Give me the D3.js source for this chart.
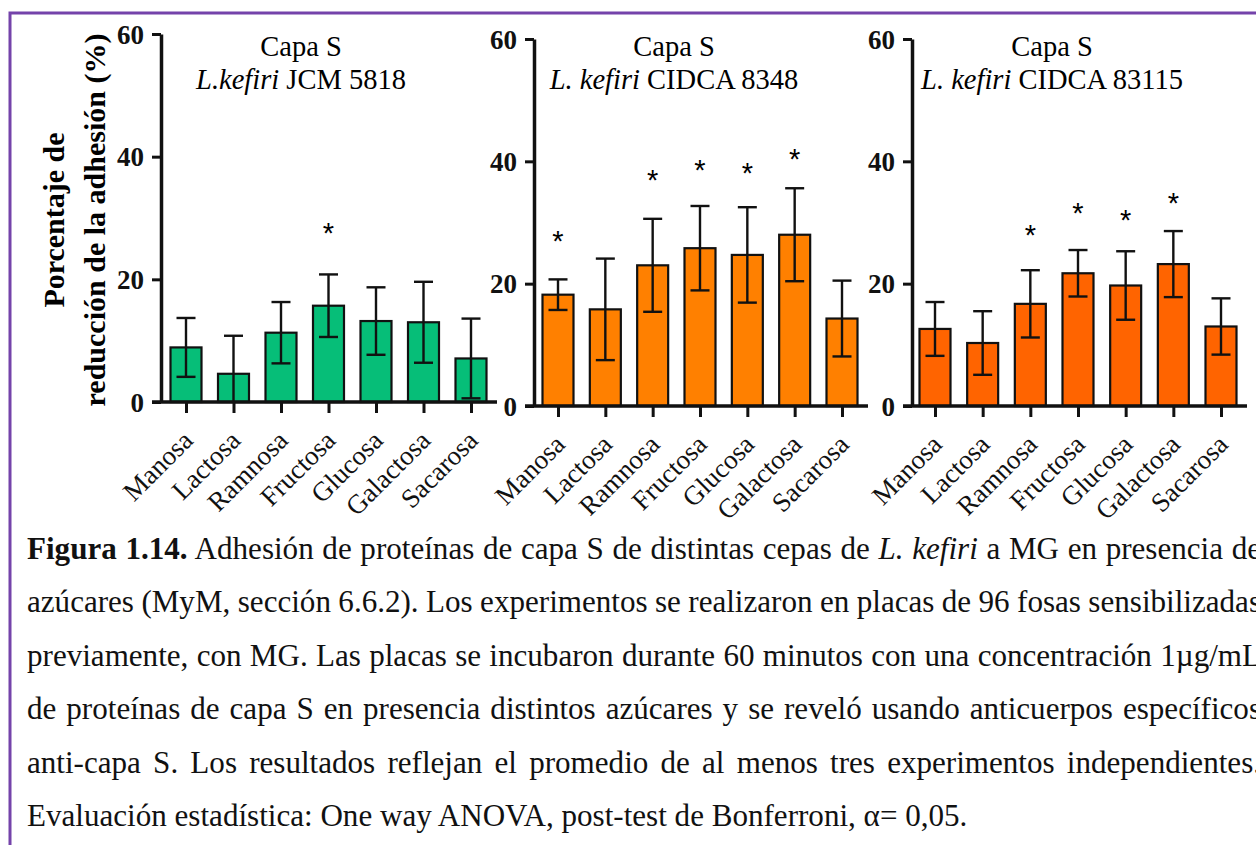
<!DOCTYPE html>
<html>
<head>
<meta charset="utf-8">
<script src="https://cdn.jsdelivr.net/npm/d3@7"></script>
<style>
  body { margin: 0; background: #fff; }
  svg { display: block; font-family: "Liberation Serif", "Times New Roman", serif; }
</style>
</head>
<body>
<svg id="chart" width="1256" height="845"></svg>
<script>
// values (mean and SD, % reduction of adhesion)
const sugars = ["Manosa", "Lactosa", "Ramnosa", "Fructosa", "Glucosa", "Galactosa", "Sacarosa"];
const yTicks = [0, 20, 40, 60];

const jcmMean = [8.9, 4.6, 11.3, 15.7, 13.2, 13.0, 7.1];
const jcmSd = [4.8, 6.2, 5.0, 5.1, 5.5, 6.6, 6.5];
// height (in %) of the significance star, null = no star
const jcmStar = [null, null, null, 28.0, null, null, null];

const c8348Mean = [18.2, 15.8, 23.0, 25.8, 24.7, 28.0, 14.3];
const c8348Sd = [2.5, 8.3, 7.6, 6.9, 7.8, 7.6, 6.2];
const c8348Star = [27.5, null, 37.5, 39.1, 38.6, 40.9, null];

const c83115Mean = [12.6, 10.3, 16.7, 21.7, 19.7, 23.2, 13.0];
const c83115Sd = [4.4, 5.2, 5.5, 3.8, 5.6, 5.4, 4.6];
const c83115Star = [null, null, 28.5, 32.0, 30.9, 33.7, null];

const strains = ["JCM 5818", "CIDCA 8348", "CIDCA 83115"];

const captionLines = [
    [["Figura 1.14.", "b"], [" Adhesión de proteínas de capa S de distintas cepas de ", ""], ["L. kefiri", "i"], [" a MG en presencia de", ""]],
    [["azúcares (MyM, sección 6.6.2). Los experimentos se realizaron en placas de 96 fosas sensibilizadas", ""]],
    [["previamente, con MG. Las placas se incubaron durante 60 minutos con una concentración 1µg/mL", ""]],
    [["de proteínas de capa S en presencia distintos azúcares y se reveló usando anticuerpos específicos", ""]],
    [["anti-capa S. Los resultados reflejan el promedio de al menos tres experimentos independientes.", ""]],
    [["Evaluación estadística: One way ANOVA, post-test de Bonferroni, α= 0,05.", ""]]
];

const panels = [
    { mean: jcmMean, sd: jcmSd, star: jcmStar, color: "#06be78", strain: strains[0], sep: ".",
      axisX: 161, first: 186, last: 471, y0: 402, y60: 34 },
    { mean: c8348Mean, sd: c8348Sd, star: c8348Star, color: "#ff8000", strain: strains[1], sep: ". ",
      axisX: 534, first: 558, last: 842, y0: 406, y60: 39 },
    { mean: c83115Mean, sd: c83115Sd, star: c83115Star, color: "#ff6400", strain: strains[2], sep: ". ",
      axisX: 912, first: 935, last: 1221, y0: 406, y60: 39 }
];

const svg = d3.select("#chart");
svg.append("rect").attr("width", 1256).attr("height", 845).attr("fill", "#fff");

// purple frame (runs off the right and bottom edges)
svg.append("rect")
    .attr("x", 10).attr("y", 13)
    .attr("width", 1400).attr("height", 1000)
    .attr("fill", "none")
    .attr("stroke", "#7443aa")
    .attr("stroke-width", 3);

const barWidth = 31;
const capWidth = 19;

panels.forEach(p => {
    const x = d3.scalePoint().domain(sugars).range([p.first, p.last]);
    const y = d3.scaleLinear().domain([0, 60]).range([p.y0, p.y60]);
    const g = svg.append("g");
    const rows = sugars.map((s, i) => ({ s, m: p.mean[i], sd: p.sd[i], star: p.star[i] }));

    // bars
    g.selectAll("rect.bar")
        .data(rows)
        .enter().append("rect")
        .attr("class", "bar")
        .attr("x", d => x(d.s) - barWidth / 2)
        .attr("y", d => y(d.m))
        .attr("width", barWidth)
        .attr("height", d => y(0) - y(d.m))
        .attr("fill", p.color)
        .attr("stroke", "#111")
        .attr("stroke-width", 2.2);

    // error bars
    const err = g.selectAll("g.err")
        .data(rows)
        .enter().append("g")
        .attr("class", "err")
        .attr("stroke", "#111")
        .attr("stroke-width", 2.4);
    err.append("line")
        .attr("x1", d => x(d.s)).attr("x2", d => x(d.s))
        .attr("y1", d => y(Math.max(0, d.m - d.sd)))
        .attr("y2", d => y(d.m + d.sd));
    err.append("line")
        .attr("x1", d => x(d.s) - capWidth / 2).attr("x2", d => x(d.s) + capWidth / 2)
        .attr("y1", d => y(d.m + d.sd)).attr("y2", d => y(d.m + d.sd));
    err.filter(d => d.m - d.sd > 0).append("line")
        .attr("x1", d => x(d.s) - capWidth / 2).attr("x2", d => x(d.s) + capWidth / 2)
        .attr("y1", d => y(d.m - d.sd)).attr("y2", d => y(d.m - d.sd));

    // significance stars (centred on the read height)
    g.selectAll("text.star")
        .data(rows.filter(d => d.star != null))
        .enter().append("text")
        .attr("class", "star")
        .attr("x", d => x(d.s))
        .attr("y", d => y(d.star))
        .attr("dy", "0.45em")
        .attr("text-anchor", "middle")
        .style("font-family", "'Liberation Sans', Arial, sans-serif")
        .style("font-size", "29px")
        .text("*");

    // y axis
    const yAxis = g.append("g")
        .attr("transform", `translate(${p.axisX},0)`)
        .call(d3.axisLeft(y).tickValues(yTicks).tickSize(9).tickSizeOuter(0).tickPadding(8));
    yAxis.select(".domain").attr("stroke", "#111").attr("stroke-width", 3.5);
    yAxis.selectAll(".tick line").attr("stroke", "#111").attr("stroke-width", 3);
    yAxis.selectAll(".tick text")
        .attr("fill", "#111")
        .attr("dy", "0.34em")
        .style("font-family", "'Liberation Serif', serif")
        .style("font-size", "27px")
        .style("font-weight", "bold");

    // x axis
    const xAxis = g.append("g")
        .attr("transform", `translate(0,${y(0)})`)
        .call(d3.axisBottom(x).tickSize(11).tickSizeOuter(0));
    xAxis.select(".domain").remove();
    xAxis.insert("line", ":first-child")
        .attr("x1", p.axisX - 9).attr("x2", p.last + 26)
        .attr("stroke", "#111").attr("stroke-width", 3.5);
    xAxis.selectAll(".tick line").attr("stroke", "#111").attr("stroke-width", 3);
    xAxis.selectAll(".tick text")
        .attr("x", 0).attr("y", 0).attr("dy", 0)
        .attr("transform", "translate(8,40) rotate(-45)")
        .attr("text-anchor", "end")
        .attr("fill", "#111")
        .style("font-family", "'Liberation Serif', serif")
        .style("font-size", "27px");

    // panel title
    const cx = p.axisX + 140;
    g.append("text")
        .attr("x", cx).attr("y", 56)
        .attr("text-anchor", "middle")
        .style("font-size", "28.5px")
        .text("Capa S");
    const t2 = g.append("text")
        .attr("x", cx).attr("y", 89)
        .attr("text-anchor", "middle")
        .style("font-size", "28.5px");
    t2.append("tspan").style("font-style", "italic").text("L" + p.sep + "kefiri");
    t2.append("tspan").text(" " + p.strain);
});

// y axis title
const yTitle = svg.append("g").attr("transform", "translate(0,220) rotate(-90)");
[["Porcentaje de", 64], ["reducción de la adhesión (%)", 105]].forEach(([txt, bx]) => {
    yTitle.append("text")
        .attr("x", 0).attr("y", bx)
        .attr("text-anchor", "middle")
        .style("font-size", "30px")
        .style("font-weight", "bold")
        .text(txt);
});

// caption, justified like the source
const capX = 27;
const capRight = 1261;
const lastLineEnd = 968;
const capFirst = 559;
const capStep = 53.4;
const capTexts = captionLines.map((segs, i) => {
    const t = svg.append("text")
        .attr("x", capX)
        .attr("y", capFirst + i * capStep)
        .style("font-size", "30px")
        .attr("fill", "#111");
    segs.forEach(([txt, st]) => {
        const ts = t.append("tspan").text(txt);
        if (st === "b") ts.style("font-weight", "bold");
        if (st === "i") ts.style("font-style", "italic");
    });
    return t;
});
// size the caption font so the short last line ends where the source's does
const lastW = capTexts[capTexts.length - 1].node().getComputedTextLength();
const capFont = 30 * (lastLineEnd - capX) / lastW;
capTexts.forEach((t, i) => {
    t.style("font-size", capFont + "px");
    if (i < capTexts.length - 1) {
        const w = t.node().getComputedTextLength();
        const full = captionLines[i].map(s => s[0]).join("");
        const spaces = (full.match(/ /g) || []).length;
        t.style("word-spacing", ((capRight - capX - w) / spaces) + "px");
    }
});
</script>
</body>
</html>
